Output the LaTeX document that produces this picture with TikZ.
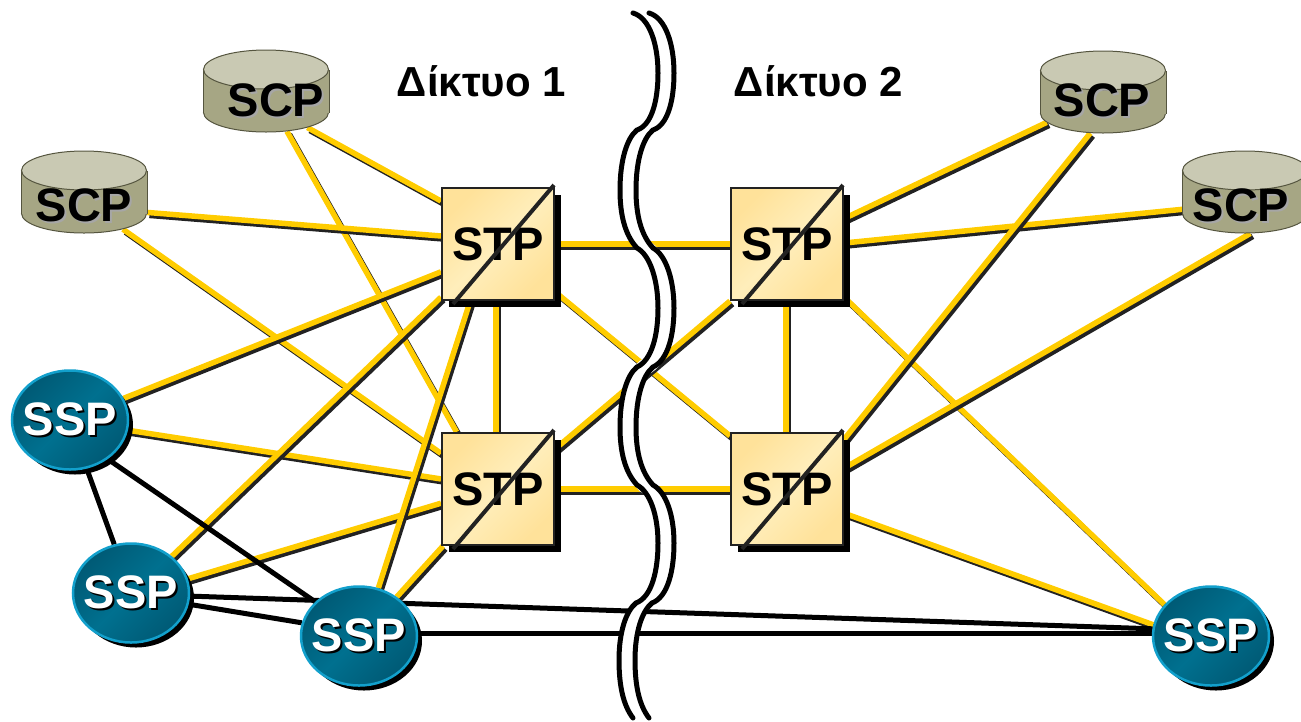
\documentclass[tikz,border=0pt]{standalone}
\usepackage{fontspec}
\setmainfont{Liberation Sans}
\usetikzlibrary{shapes.geometric,shadows,backgrounds,calc}
\definecolor{linkgold}{HTML}{FFCC00}
\definecolor{linkdark}{HTML}{222222}
\definecolor{stplight}{HTML}{FFEEBB}
\definecolor{stpdeep}{HTML}{FFE29A}
\definecolor{ssplight}{HTML}{00708F}
\definecolor{sspdeep}{HTML}{005A75}
\definecolor{sspedge}{HTML}{12A0CC}
\definecolor{scptop}{HTML}{C9C9B3}
\definecolor{scpbody}{HTML}{A6A684}
\definecolor{scpedge}{HTML}{55553F}
\newcommand{\castlabel}[2]{\makebox[0pt]{\rlap{\kern2pt\raisebox{-2pt}{\textcolor{#1}{#2}}}#2}}
\newcommand{\ssplabel}{\raisebox{-5pt}{\castlabel{black}{SSP}}}
\newcommand{\scpdrum}[3]{%
  \node[scpfoot] (#1) at (#2,#3+21.5) {};
  \path[fill=scpbody] (#1.west) rectangle ($(#1.east)+(0,-43)$);
  \draw[draw=scpedge,line width=1pt] (#1.west) -- ++(0,-43) (#1.east) -- ++(0,-43);
  \node[scpcap] (#1cap) at ($(#1)+(0,-43)$) {};
}
\newcommand{\wavepath}{(633,13) .. controls (650,18) and (658,45) .. (658,73)
  .. controls (658,100) and (652,125) .. (637,130)
  .. controls (627,138) and (620,160) .. (620,190)
  .. controls (620,215) and (625,235) .. (637,248)
  .. controls (650,255) and (658,280) .. (658,308)
  .. controls (658,335) and (652,360) .. (637,367)
  .. controls (627,375) and (620,397) .. (620,427)
  .. controls (620,452) and (625,472) .. (637,485)
  .. controls (650,492) and (658,515) .. (658,543)
  .. controls (658,570) and (652,597) .. (636,603)
  .. controls (626,611) and (619,632) .. (619,660)
  .. controls (619,685) and (623,705) .. (633,718)}
\tikzset{
  goldlink/.style={draw=linkgold,line width=5.5pt,
    preaction={draw=linkdark,line width=5.5pt,transform canvas={xshift=2.5pt,yshift=-3pt}}},
  blacklink/.style={draw=black,line width=5pt},
  stpbox/.style={rectangle,draw=linkdark,line width=2pt,inner sep=0pt,
    minimum width=112pt,minimum height=112pt,
    left color=stpdeep,right color=stpdeep,middle color=stplight,shading angle=45,
    drop shadow={shadow xshift=7pt,shadow yshift=-7pt,fill=black,opacity=1},
    font=\fontsize{47}{47}\selectfont\bfseries},
  sspdisc/.style={ellipse,draw=sspedge,line width=2.5pt,inner sep=0pt,
    minimum width=116pt,minimum height=99pt,
    left color=sspdeep,right color=sspdeep,middle color=ssplight,shading angle=45,
    drop shadow={shadow xshift=5pt,shadow yshift=-5pt,fill=black,opacity=1},
    text=white,font=\fontsize{47}{47}\selectfont\bfseries},
  scpfoot/.style={ellipse,draw=scpedge,fill=scpbody,line width=1pt,inner sep=0pt,
    minimum width=125pt,minimum height=39pt},
  scpcap/.style={ellipse,draw=scpedge,fill=scptop,line width=1pt,inner sep=0pt,
    minimum width=125pt,minimum height=39pt},
  scptext/.style={inner sep=0pt,font=\fontsize{47}{47}\selectfont\bfseries},
  nettext/.style={inner sep=0pt,font=\fontsize{42}{42}\selectfont\bfseries},
  stpslash/.style={draw=linkdark,line width=4pt},
  waveback/.style={draw=white,line width=16pt},
  waveline/.style={draw=black,line width=5pt,line cap=round}
}
\begin{document}
\begin{tikzpicture}[x=1pt,y=-1pt]
  \useasboundingbox (0,0) rectangle (1301,721);
  \scpdrum{scpa}{84}{192}
  \scpdrum{scpb}{266}{91}
  \scpdrum{scpc}{1103}{92}
  \scpdrum{scpd}{1245}{192}
  \node[scptext] (scpalabel) at (84,206) {\castlabel{gray!70}{SCP}};
  \node[scptext] (scpblabel) at (276,101) {\castlabel{gray!70}{SCP}};
  \node[scptext] (scpclabel) at (1102,101) {\castlabel{gray!70}{SCP}};
  \node[scptext] (scpdlabel) at (1241,206) {\castlabel{gray!70}{SCP}};
  \node[stpbox] (stpa) at (498,244) {STP};
  \node[stpbox] (stpb) at (498,489) {STP};
  \node[stpbox] (stpc) at (787,244) {STP};
  \node[stpbox] (stpd) at (787,489) {STP};
  \foreach \n in {stpa,stpb,stpc,stpd}
    \draw[stpslash] ($(\n.south west)+(12,3)$) -- ($(\n.north east)+(-1,-2)$);
  \node[sspdisc] (sspa) at (70,420) {\ssplabel};
  \node[sspdisc] (sspb) at (131,593) {\ssplabel};
  \node[sspdisc] (sspc) at (359,636) {\ssplabel};
  \node[sspdisc] (sspd) at (1211,636) {\ssplabel};
  \node[nettext] (neta) at (481.5,81.5) {Δίκτυο 1};
  \node[nettext] (netb) at (818.5,81.5) {Δίκτυο 2};
  \begin{scope}[on background layer]
    \draw[goldlink] (scpb.-20.7) to (stpa.143.5);
    \draw[goldlink] (scpb.-42.9) to (stpb.126.7);
    \draw[goldlink] (scpa.1) to (stpa.172.8);
    \draw[goldlink] (scpa.-22.9) to (stpb.148.5);
    \draw[goldlink] (sspa.22) to (stpa.-154);
    \draw[goldlink] (sspa.-10.8) to (stpb.170.8);
    \draw[goldlink] (sspb.42.8) to (stpa.-137);
    \draw[goldlink] (sspb.14.7) to (stpb.-166.8);
    \draw[goldlink] (sspc.68.8) to (stpa.-116.6);
    \draw[goldlink] (sspc.46.4) to (stpb.-134.7);
    \draw[goldlink] (stpa.-92.5) to (stpb.92.5);
    \draw[goldlink] (stpa.east) to (stpc.west);
    \draw[goldlink] (stpb.east) to (stpd.west);
    \draw[goldlink] (stpa.-40.3) to (stpd.137);
    \draw[goldlink] (stpb.35.3) to (stpc.-135);
    \draw[goldlink] (stpc.-91) to (stpd.91);
    \draw[goldlink] (stpc.24.7) to (scpc.-171.7);
    \draw[goldlink] (stpc.1) to (scpd.176.8);
    \draw[goldlink] (stpc.-43.7) to (sspd.146);
    \draw[goldlink] (stpd.41) to (scpc.-123.7);
    \draw[goldlink] (stpd.20.6) to (scpd.-75.6);
    \draw[goldlink] (stpd.-23) to (sspd.169.4);
    \draw[blacklink] (sspa.-71) to (sspb.109.8);
    \draw[blacklink] (sspa.-46) to (sspc.142);
    \draw[blacklink] (sspb.-3) to (sspd.173.2);
    \draw[blacklink] (sspb.-11) to (sspc.167);
    \draw[blacklink] (sspc.2) to (sspd.178);
    \draw[waveback,xshift=8pt] \wavepath;
    \foreach \dx in {0,16}
      \draw[waveline,xshift=\dx pt] \wavepath;
  \end{scope}
\end{tikzpicture}
\end{document}
